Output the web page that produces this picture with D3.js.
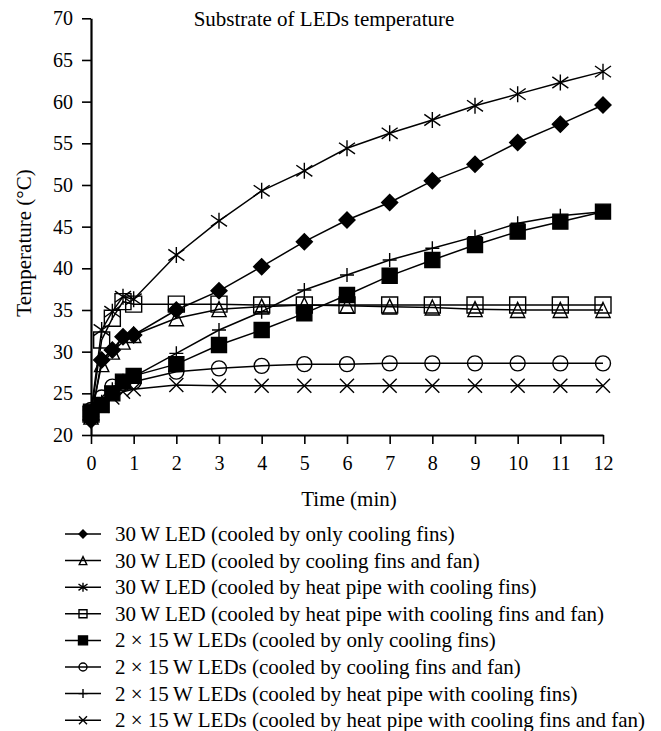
<!DOCTYPE html>
<html>
<head>
<meta charset="utf-8">
<script src="https://cdn.jsdelivr.net/npm/d3@7"></script>
<style>
  body { margin: 0; background: #fff; }
  text { font-family: "Liberation Serif", "DejaVu Serif", serif; fill: #000; }
</style>
</head>
<body>
<div id="chart"></div>
<script>
// time points (min)
var times = [0, 0.25, 0.5, 0.75, 1, 2, 3, 4, 5, 6, 7, 8, 9, 10, 11, 12];

// temperatures
var led30Fins        = [21.8, 29.0, 30.2, 31.8, 32.0, 35.0, 37.3, 40.2, 43.2, 45.8, 47.9, 50.5, 52.5, 55.1, 57.3, 59.6];
var led30FinsFan     = [22.2, 28.5, 30.0, 31.2, 32.0, 34.0, 35.1, 35.4, 35.6, 35.5, 35.4, 35.3, 35.1, 35.0, 35.0, 35.0];
var led30Pipe        = [22.8, 32.6, 34.8, 36.6, 36.3, 41.6, 45.7, 49.3, 51.7, 54.4, 56.2, 57.8, 59.5, 60.9, 62.3, 63.6];
var led30PipeFan     = [22.5, 31.4, 34.0, 36.0, 35.7, 35.7, 35.7, 35.6, 35.6, 35.6, 35.6, 35.6, 35.6, 35.6, 35.6, 35.6];
var led2x15Fins      = [22.8, 23.6, 25.0, 26.4, 27.1, 28.5, 30.8, 32.6, 34.6, 36.8, 39.1, 41.0, 42.8, 44.4, 45.6, 46.8];
var led2x15FinsFan   = [23.0, 24.5, 25.8, 26.2, 26.4, 27.6, 28.0, 28.3, 28.5, 28.5, 28.6, 28.6, 28.6, 28.6, 28.6, 28.6];
var led2x15Pipe      = [22.2, 24.0, 25.5, 26.5, 27.0, 29.8, 32.6, 34.8, 37.4, 39.2, 41.0, 42.4, 43.8, 45.4, 46.3, 46.8];
var led2x15PipeFan   = [22.5, 23.5, 24.5, 25.2, 25.5, 26.0, 25.9, 25.9, 25.9, 25.9, 25.9, 25.9, 25.9, 25.9, 25.9, 25.9];

var labels = [
    "30\u2009W LED (cooled by only cooling fins)",
    "30\u2009W LED (cooled by cooling fins and fan)",
    "30\u2009W LED (cooled by heat pipe with cooling fins)",
    "30\u2009W LED (cooled by heat pipe with cooling fins and fan)",
    "2 \u00d7 15\u2009W LEDs (cooled by only cooling fins)",
    "2 \u00d7 15\u2009W LEDs (cooled by cooling fins and fan)",
    "2 \u00d7 15\u2009W LEDs (cooled by heat pipe with cooling fins)",
    "2 \u00d7 15\u2009W LEDs (cooled by heat pipe with cooling fins and fan)"
];
var markers = ["diamond", "triangle", "asterisk", "square", "filledSquare", "circle", "plus", "cross"];
var xTicks = [0, 1, 2, 3, 4, 5, 6, 7, 8, 9, 10, 11, 12];
var yTicks = [20, 25, 30, 35, 40, 45, 50, 55, 60, 65, 70];

var allSeries = [led30Fins, led30FinsFan, led30Pipe, led30PipeFan,
                 led2x15Fins, led2x15FinsFan, led2x15Pipe, led2x15PipeFan];

var W = 661, H = 731;
var svg = d3.select("#chart").append("svg")
    .attr("width", W).attr("height", H);

var x = d3.scaleLinear().domain([0, 12]).range([91, 603]);
var y = d3.scaleLinear().domain([20, 70]).range([435, 18.3]);

// marker path for a given kind and size
function markerPath(kind, s) {
    var h = s / 2;
    if (kind == "diamond") return "M0," + (-h) + "L" + h + ",0L0," + h + "L" + (-h) + ",0Z";
    if (kind == "triangle") return "M0," + (-h) + "L" + (h * 0.95) + "," + h + "L" + (-h * 0.95) + "," + h + "Z";
    if (kind == "square" || kind == "filledSquare") return "M" + (-h) + "," + (-h) + "H" + h + "V" + h + "H" + (-h) + "Z";
    if (kind == "circle") return "M" + h + ",0A" + h + "," + h + " 0 1,1 " + (-h) + ",0A" + h + "," + h + " 0 1,1 " + h + ",0Z";
    if (kind == "plus") return "M0," + (-h) + "V" + h + "M" + (-h) + ",0H" + h;
    if (kind == "cross") return "M" + (-h) + "," + (-h) + "L" + h + "," + h + "M" + h + "," + (-h) + "L" + (-h) + "," + h;
    if (kind == "asterisk") return "M0," + (-h) + "V" + h +
        "M" + (-h) + "," + (-h * 0.7) + "L" + h + "," + (h * 0.7) +
        "M" + h + "," + (-h * 0.7) + "L" + (-h) + "," + (h * 0.7);
}
var bigSize = { diamond: 16, triangle: 15, asterisk: 16, square: 16, filledSquare: 15, circle: 15, plus: 14, cross: 14 };
var smallSize = { diamond: 8, triangle: 8, asterisk: 9, square: 8, filledSquare: 9, circle: 8, plus: 9, cross: 8 };

function styleMarker(sel, kind) {
    var filled = (kind == "diamond" || kind == "filledSquare");
    sel.attr("fill", filled ? "#000" : "none")
        .attr("stroke", "#000")
        .attr("stroke-width", 1.4);
}

// axes
var yAxis = svg.append("g")
    .attr("transform", "translate(91,0)")
    .call(d3.axisLeft(y).tickValues(yTicks).tickSize(9).tickSizeOuter(0).tickPadding(9));
var xAxis = svg.append("g")
    .attr("transform", "translate(0,435)")
    .call(d3.axisBottom(x).tickValues(xTicks).tickSize(9).tickSizeOuter(0).tickPadding(12));
[xAxis, yAxis].forEach(function (g) {
    g.select(".domain").attr("stroke-width", 2.2).attr("stroke", "#000");
    g.selectAll(".tick line").attr("stroke-width", 1.6).attr("stroke", "#000");
    g.selectAll(".tick text").attr("font-family", "Liberation Serif").attr("font-size", 20).attr("fill", "#000");
});

// lines + markers
var line = d3.line()
    .x(function (d, i) { return x(times[i]); })
    .y(function (d) { return y(d); });

allSeries.forEach(function (vals, k) {
    var kind = markers[k];
    svg.append("path")
        .datum(vals)
        .attr("fill", "none")
        .attr("stroke", "#000")
        .attr("stroke-width", 1.5)
        .attr("d", line);
    svg.append("g")
        .selectAll("path")
        .data(vals)
        .enter()
        .append("path")
        .attr("transform", function (d, i) { return "translate(" + x(times[i]) + "," + y(d) + ")"; })
        .attr("d", markerPath(kind, bigSize[kind]))
        .call(styleMarker, kind);
});

// titles
svg.append("text")
    .attr("x", 324).attr("y", 26)
    .attr("text-anchor", "middle")
    .attr("font-size", 21)
    .text("Substrate of LEDs temperature");

svg.append("text")
    .attr("x", 349).attr("y", 506)
    .attr("text-anchor", "middle")
    .attr("font-size", 21)
    .text("Time (min)");

svg.append("text")
    .attr("transform", "translate(31,243) rotate(-90)")
    .attr("text-anchor", "middle")
    .attr("font-size", 21)
    .text("Temperature (\u00b0C)");

// legend
var legend = svg.append("g");
labels.forEach(function (lab, k) {
    var ly = 534 + k * 26.6;
    var kind = markers[k];
    legend.append("line")
        .attr("x1", 65).attr("x2", 101)
        .attr("y1", ly).attr("y2", ly)
        .attr("stroke", "#000").attr("stroke-width", 1.5);
    legend.append("path")
        .attr("transform", "translate(83," + ly + ")")
        .attr("d", markerPath(kind, smallSize[kind]))
        .call(styleMarker, kind);
    legend.append("text")
        .attr("x", 115).attr("y", ly + 7)
        .attr("font-size", 21)
        .text(lab);
});
</script>
</body>
</html>
